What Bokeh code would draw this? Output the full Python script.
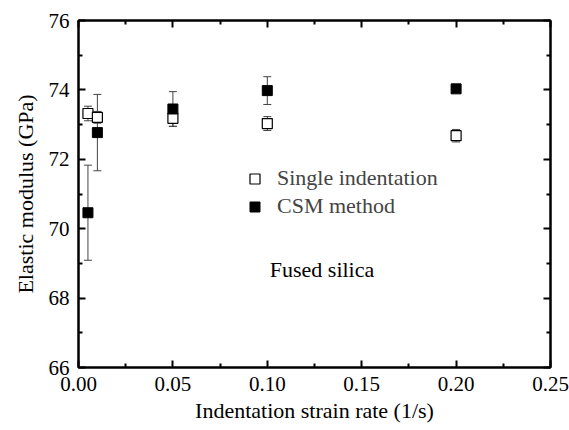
from bokeh.plotting import figure
from bokeh.models import (ColumnDataSource, Whisker, TeeHead, Legend, LegendItem, Label, LinearAxis,
                          Range1d, FixedTicker, CustomJSTickFormatter)
from bokeh.embed import file_html
from bokeh.resources import INLINE

rates = [0.005, 0.01, 0.05, 0.1, 0.2]
single = [73.32, 73.21, 73.18, 73.03, 72.68]
single_err = [0.21, 0.17, 0.23, 0.2, 0.18]
csm = [70.46, 72.77, 73.45, 73.98, 74.03]
csm_err = [1.37, 1.1, 0.5, 0.4, 0.05]

FONT = "Liberation Serif"

p = figure(width=569, height=430, output_backend="svg", toolbar_location=None,
           x_range=Range1d(0, 0.25), y_range=Range1d(66, 76),
           min_border_left=78, min_border_top=20, min_border_right=19, min_border_bottom=63)
p.grid.visible = False
p.outline_line_color = "black"
p.outline_line_width = 2
p.background_fill_color = "white"
p.border_fill_color = "white"

s_src = ColumnDataSource(dict(x=rates, y=single,
                              lo=[v - e for v, e in zip(single, single_err)],
                              hi=[v + e for v, e in zip(single, single_err)]))
c_src = ColumnDataSource(dict(x=rates, y=csm,
                              lo=[v - e for v, e in zip(csm, csm_err)],
                              hi=[v + e for v, e in zip(csm, csm_err)]))

for src in (s_src, c_src):
    w = Whisker(base="x", upper="hi", lower="lo", source=src, line_color="#444444", line_width=1,
                upper_head=TeeHead(size=8, line_color="#444444", line_width=1),
                lower_head=TeeHead(size=8, line_color="#444444", line_width=1))
    p.add_layout(w)

r_s = p.scatter("x", "y", source=s_src, marker="square", size=10, fill_color="white",
                line_color="black", line_width=1.2)
r_c = p.scatter("x", "y", source=c_src, marker="square", size=10, fill_color="black",
                line_color="black")

def style_axis(ax, labels=True):
    ax.major_tick_in = 7
    ax.major_tick_out = 0
    ax.minor_tick_in = 4
    ax.minor_tick_out = 0
    ax.axis_line_color = "black"
    ax.axis_line_width = 2
    ax.major_tick_line_width = 2
    ax.minor_tick_line_width = 2
    ax.major_label_text_font = FONT
    ax.major_label_text_font_size = "21px"
    ax.major_label_text_color = "black"
    ax.axis_label_text_font = FONT
    ax.axis_label_text_font_size = "22px"
    ax.axis_label_text_font_style = "normal"
    ax.axis_label_text_color = "black"
    if not labels:
        ax.formatter = CustomJSTickFormatter(code="return ''")

xt = FixedTicker(ticks=[0, 0.05, 0.1, 0.15, 0.2, 0.25], minor_ticks=[0.025, 0.075, 0.125, 0.175, 0.225])
yt = FixedTicker(ticks=[66, 68, 70, 72, 74, 76], minor_ticks=[67, 69, 71, 73, 75])

p.xaxis.ticker = xt
p.yaxis.ticker = yt
p.xaxis.major_label_overrides = {0: "0.00", 0.05: "0.05", 0.1: "0.10", 0.15: "0.15", 0.2: "0.20", 0.25: "0.25"}
p.xaxis.axis_label = "Indentation strain rate (1/s)"
p.yaxis.axis_label = "Elastic modulus (GPa)"
style_axis(p.xaxis[0])
style_axis(p.yaxis[0])
p.xaxis.major_label_standoff = 9
p.yaxis.major_label_standoff = 9
p.xaxis.axis_label_standoff = 4
p.yaxis.axis_label_standoff = 8

top = LinearAxis(ticker=xt)
right = LinearAxis(ticker=yt)
style_axis(top, labels=False)
style_axis(right, labels=False)
p.add_layout(top, "above")
p.add_layout(right, "right")

legend = Legend(items=[LegendItem(label="Single indentation", renderers=[r_s]),
                       LegendItem(label="CSM method", renderers=[r_c])],
                location=(164, 148), border_line_alpha=0, background_fill_alpha=0,
                label_text_font=FONT, label_text_font_size="22px",
                glyph_width=25, glyph_height=25, spacing=2, label_standoff=10, padding=0, margin=0)
p.add_layout(legend)

p.add_layout(Label(x=0.1013, y=68.46, text="Fused silica", text_font=FONT, text_font_size="22px",
                   text_color="black"))

open("out.html", "w").write(file_html(p, INLINE))
